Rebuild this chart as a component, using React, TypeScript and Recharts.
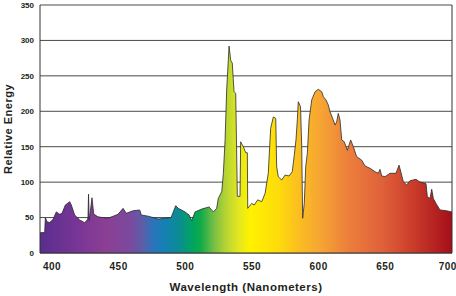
import { Area, AreaChart, CartesianGrid, ReferenceLine, XAxis, YAxis } from "recharts";

// wavelength (nm) and relative energy
const wavelengths = [
  391, 394.5, 395, 396.3, 398.3, 400.8, 403.2, 405.8, 407.5, 410, 413.3, 414.5, 417, 420.8, 424.5, 426.5,
  427, 427.4, 427.9, 430, 431.3, 434.5, 442, 449.5, 453.3, 455.7, 460.8, 465.8, 467, 472, 479.7, 489.3,
  492.8, 494.7, 499.8, 502.8, 504.8, 507.3, 512.3, 517.8, 521, 523.5, 524.7, 527.3, 528.5, 529.8, 531,
  532.8, 534, 535.2, 536.5, 537.8, 539, 541, 541.5, 543.5, 545.3, 546.5, 546.8, 549.8, 551.7, 554.3,
  557.3, 559.8, 562.2, 564, 566, 567.8, 568.5, 569.7, 572.3, 574.8, 577.8, 580.2, 581.7, 583, 584, 584.7,
  586.4, 587.3, 588, 589.2, 590.3, 591.5, 592.8, 594.8, 597.3, 599.7, 602.3, 603.5, 605.5, 607.2, 608.5,
  610.5, 612.3, 613.5, 614.7, 616, 617.3, 619.2, 621.5, 624, 626, 628.5, 632.3, 634.8, 638.5, 642.3,
  644.7, 646, 647.3, 649.8, 653.5, 658, 660.3, 663.5, 666, 668.5, 673, 675.5, 680.5, 681.5, 683.5, 684.8,
  686, 688, 691, 694.8, 700,
];
const energy = [
  28.6, 29, 50, 44, 43, 47.5, 58, 54.6, 56, 67.7, 72.4, 67.7, 53.6, 46.6, 42.8, 47,
  50, 83, 46, 78, 55, 51, 49, 54.6, 63, 56, 59.7, 60.7, 53.6, 52, 48, 50,
  66.8, 63, 58, 53.6, 45.6, 58, 62, 65, 58, 63, 77, 86.5, 112, 159, 230,
  292, 272, 268, 228, 225, 80, 80, 157, 150, 141.5, 141.5, 63, 70, 67.7, 75,
  72.4, 84, 112.5, 176, 192, 190, 122, 107.7, 103, 110, 108.7, 114.7, 138, 160, 188, 213.5,
  206.5, 150, 49, 70, 122, 140.7, 187.7, 216, 227.6, 231, 227.6, 220.6, 216, 209, 199.4,
  190, 180.6, 185, 197, 187.7, 159.5, 157, 145, 159.5, 150, 136, 131, 122.8, 119.5, 114.7,
  112.5, 118, 108.7, 107.7, 112.5, 112.5, 124, 100.6, 96, 102, 104, 100.6, 98, 79.5, 77, 90,
  77, 70, 60.7, 60, 58,
];
const xTicks = [400, 450, 500, 550, 600, 650, 700];
const yTicks = [0, 50, 100, 150, 200, 250, 300, 350];

const spectrumStops = [
  { offset: 0, color: "#5a2d8e" },
  { offset: 0.1, color: "#7b3796" },
  { offset: 0.16, color: "#8b3f94" },
  { offset: 0.22, color: "#7a4a9e" },
  { offset: 0.25, color: "#5b5ea9" },
  { offset: 0.275, color: "#2a74bb" },
  { offset: 0.3, color: "#1580b5" },
  { offset: 0.335, color: "#0c8b95" },
  { offset: 0.37, color: "#00a461" },
  { offset: 0.39, color: "#10aa4a" },
  { offset: 0.42, color: "#70bd44" },
  { offset: 0.45, color: "#b5d334" },
  { offset: 0.48, color: "#e0e622" },
  { offset: 0.51, color: "#fff200" },
  { offset: 0.58, color: "#fedb0b" },
  { offset: 0.63, color: "#fbbd21" },
  { offset: 0.68, color: "#f6a533" },
  { offset: 0.75, color: "#ec7e3b" },
  { offset: 0.83, color: "#e0613a" },
  { offset: 0.9, color: "#cc3f2b" },
  { offset: 1, color: "#a50e1a" },
];

const data = wavelengths.map((nm, i) => ({ nm, energy: energy[i] }));

const font = "'Liberation Sans', Arial, sans-serif";

export default function App() {
  return (
    <div style={{ position: "absolute", left: 0, top: 0 }}>
      <AreaChart width={456} height={296} data={data} margin={{ top: 5, right: 4, left: 0, bottom: 0 }}>
        <defs>
          <linearGradient id="spec" x1="0" y1="0" x2="1" y2="0">
            {spectrumStops.map((s) => (
              <stop key={s.offset} offset={s.offset} stopColor={s.color} />
            ))}
          </linearGradient>
        </defs>
        <CartesianGrid vertical={false} stroke="#4a4a4a" strokeWidth={1} />
        <XAxis
          dataKey="nm"
          type="number"
          domain={[391, 700]}
          ticks={xTicks}
          allowDataOverflow
          height={43}
          tickSize={0}
          tickMargin={10}
          axisLine={{ stroke: "#333" }}
          tick={{ fill: "#231f20", fontSize: 10, fontWeight: "bold", fontFamily: font, letterSpacing: 0.5 }}
          label={{
            value: "Wavelength (Nanometers)",
            position: "insideBottom",
            offset: 5,
            fill: "#231f20",
            fontSize: 11.5,
            fontWeight: "bold",
            fontFamily: font,
            letterSpacing: 0.5,
          }}
        />
        <YAxis
          domain={[0, 350]}
          ticks={yTicks}
          width={40}
          tickSize={0}
          tickMargin={6}
          axisLine={{ stroke: "#333" }}
          tick={{ fill: "#231f20", fontSize: 8, fontWeight: "bold", fontFamily: font }}
          label={{
            value: "Relative Energy",
            angle: -90,
            position: "insideLeft",
            offset: 8,
            style: { textAnchor: "middle" },
            fill: "#231f20",
            fontSize: 11,
            fontWeight: "bold",
            fontFamily: font,
            letterSpacing: 0.5,
          }}
        />
        <ReferenceLine x={700} stroke="#333" strokeWidth={1} />
        <Area
          type="linear"
          dataKey="energy"
          stroke="#2b2b2b"
          strokeWidth={0.8}
          fill="url(#spec)"
          fillOpacity={1}
          isAnimationActive={false}
          dot={false}
          activeDot={false}
        />
      </AreaChart>
    </div>
  );
}
